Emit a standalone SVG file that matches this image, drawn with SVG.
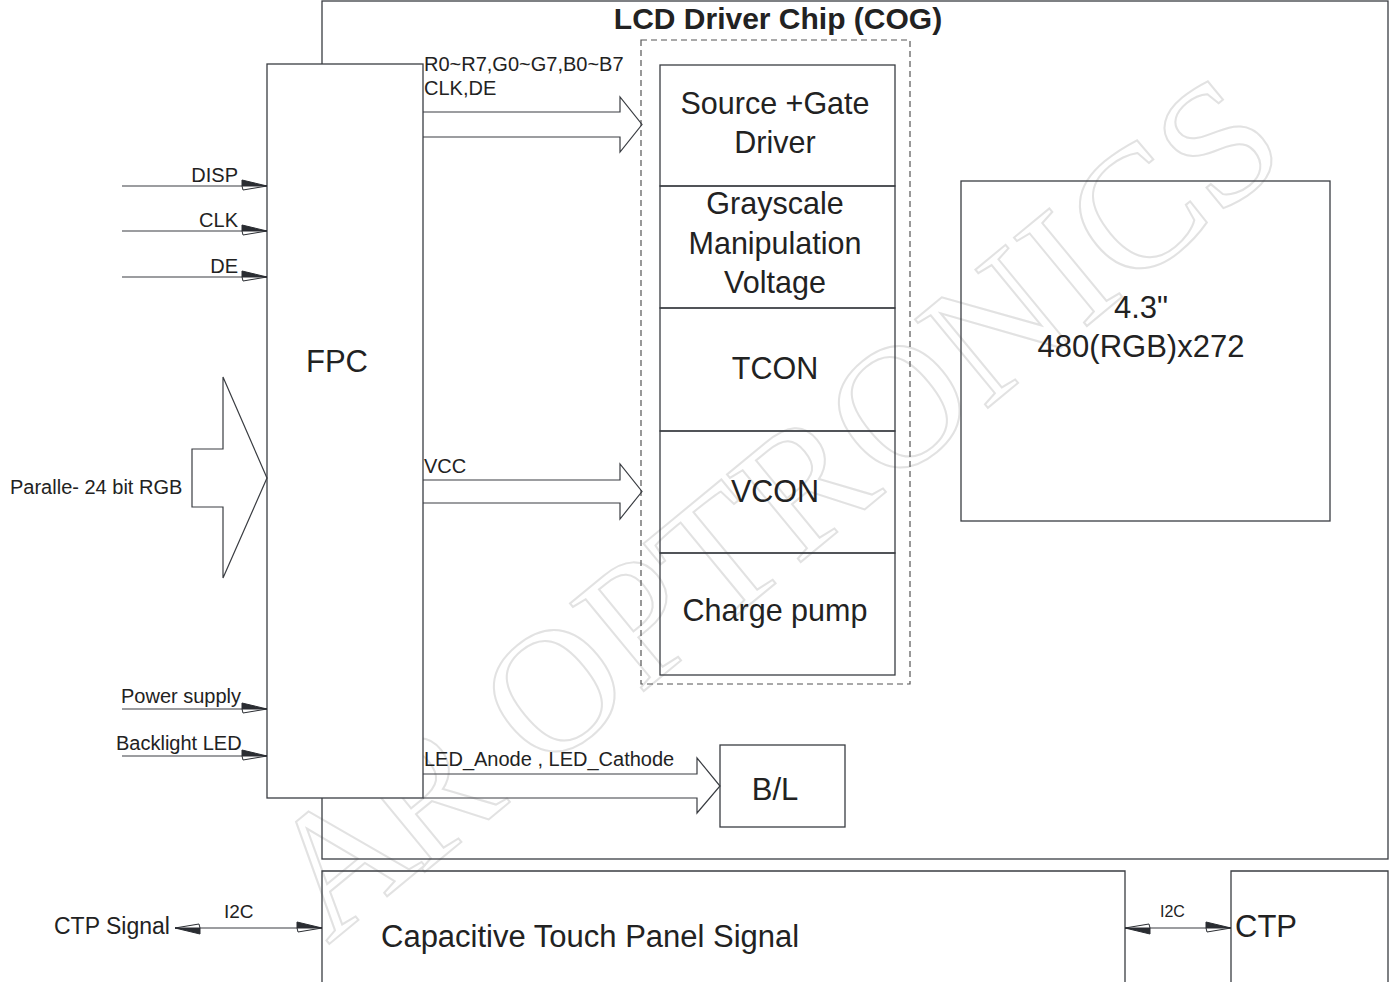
<svg xmlns="http://www.w3.org/2000/svg" xmlns:xlink="http://www.w3.org/1999/xlink" width="1391" height="982" viewBox="0 0 1391 982">
<style>
.box{fill:none;stroke:#3a3d42;stroke-width:1.3}
.ln{fill:none;stroke:#3a3d42;stroke-width:1.2}
.dash{fill:none;stroke:#555;stroke-width:1.2;stroke-dasharray:6,4}
text{font-family:"Liberation Sans",Arial,sans-serif;fill:#222}
.big{font-size:31px}
.mid{font-size:30.5px;text-anchor:middle}
.sm{font-size:20px}
.wm{font-family:"Liberation Serif",serif;font-size:175px;fill:none;stroke:#e2e2e2;stroke-width:2}
</style>
<defs>
<g id="ah">
<polygon points="-25,-6 0,0 -25,0" fill="#2a2d32" stroke="#2a2d32" stroke-width="1"/>
<polygon points="-25,0 0,0 -24,4" fill="#fff" stroke="#2a2d32" stroke-width="1"/>
</g>
</defs>
<rect width="1391" height="982" fill="#fff"/>
<g id="watermark" class="wm" transform="translate(30,-42)">
<text class="wm" transform="translate(298,987) rotate(-39.5)">A</text>
<text class="wm" transform="translate(390,918) rotate(-39.5)">R</text>
<text class="wm" transform="translate(512,817) rotate(-39.5)">O</text>
<text class="wm" transform="translate(609,737) rotate(-39.5)">P</text>
<text class="wm" transform="translate(684,676) rotate(-39.5)">T</text>
<text class="wm" transform="translate(766,608) rotate(-39.5)">R</text>
<text class="wm" transform="translate(857,533) rotate(-39.5)">O</text>
<text class="wm" transform="translate(954,453) rotate(-39.5)">N</text>
<text class="wm" transform="translate(1052,372) rotate(-39.5)">I</text>
<text class="wm" transform="translate(1097,335) rotate(-39.5)">C</text>
<text class="wm" transform="translate(1187,261) rotate(-39.5)">S</text>
</g>

<g id="chip">
<rect class="box" x="322" y="1" width="1066" height="858"/>
<text x="778" y="29" style="font-size:30px;font-weight:bold;text-anchor:middle">LCD Driver Chip (COG)</text>
</g>
<g id="fpc">
<rect class="box" x="267" y="64" width="156" height="734" style="fill:#fff"/>
<text class="big" x="337" y="372" text-anchor="middle">FPC</text>
</g>
<g id="driver-group">
<rect class="dash" x="641" y="40" width="269" height="644"/>
</g>
<g id="source-gate">
<rect class="box" x="660" y="65" width="235" height="121"/>
<text class="mid" x="775" y="114">Source +Gate</text>
<text class="mid" x="775" y="153">Driver</text>
</g>
<g id="grayscale">
<rect class="box" x="660" y="186" width="235" height="122"/>
<text class="mid" x="775" y="214">Grayscale</text>
<text class="mid" x="775" y="254">Manipulation</text>
<text class="mid" x="775" y="293">Voltage</text>
</g>
<g id="tcon">
<rect class="box" x="660" y="308" width="235" height="123"/>
<text class="mid" x="775" y="379">TCON</text>
</g>
<g id="vcon">
<rect class="box" x="660" y="431" width="235" height="122"/>
<text class="mid" x="775" y="502">VCON</text>
</g>
<g id="charge-pump">
<rect class="box" x="660" y="553" width="235" height="122"/>
<text class="mid" x="775" y="621">Charge pump</text>
</g>
<g id="panel">
<rect class="box" x="961" y="181" width="369" height="340"/>
<text class="mid" x="1141" y="318" style="font-size:31px">4.3"</text>
<text class="mid" x="1141" y="357" style="font-size:31px">480(RGB)x272</text>
</g>
<g id="bl">
<rect class="box" x="720" y="745" width="125" height="82"/>
<text class="big" x="775" y="800" text-anchor="middle">B/L</text>
</g>
<g id="ctp-signal-box">
<polyline class="box" points="322,982 322,871 1125,871 1125,982"/>
<text class="big" x="381" y="947">Capacitive Touch Panel Signal</text>
</g>
<g id="ctp">
<polyline class="box" points="1231,982 1231,871 1388,871 1388,982"/>
<text class="big" x="1235" y="937">CTP</text>
</g>
<g id="ctp-signal-label">
<text x="54" y="934" style="font-size:23px">CTP Signal</text>
</g>
<g id="rgb-input">
<polygon class="ln" points="223,377 267,478 223,578 223,507 192,507 192,449 223,449"/>
<text x="10" y="494" style="font-size:20px">Paralle- 24 bit RGB</text>
</g>

<g id="connectors">
<line class="ln" x1="122" y1="186" x2="267" y2="186"/>
<use href="#ah" xlink:href="#ah" transform="translate(267,186)"/>
<text class="sm" x="238" y="182" text-anchor="end">DISP</text>
<line class="ln" x1="122" y1="231" x2="267" y2="231"/>
<use href="#ah" xlink:href="#ah" transform="translate(267,231)"/>
<text class="sm" x="238" y="227" text-anchor="end">CLK</text>
<line class="ln" x1="122" y1="277" x2="267" y2="277"/>
<use href="#ah" xlink:href="#ah" transform="translate(267,277)"/>
<text class="sm" x="238" y="273" text-anchor="end">DE</text>
<line class="ln" x1="122" y1="709" x2="267" y2="709"/>
<use href="#ah" xlink:href="#ah" transform="translate(267,709)"/>
<text class="sm" x="121" y="703">Power supply</text>
<line class="ln" x1="122" y1="756" x2="267" y2="756"/>
<use href="#ah" xlink:href="#ah" transform="translate(267,756)"/>
<text class="sm" x="116" y="750">Backlight LED</text>

<polyline class="ln" points="423,112 620,112 620,97 642,124.5 620,152 620,137 423,137"/>
<text class="sm" x="424" y="71">R0~R7,G0~G7,B0~B7</text>
<text class="sm" x="424" y="95">CLK,DE</text>

<polyline class="ln" points="423,480 620,480 620,464 642,491.5 620,519 620,503 423,503"/>
<text class="sm" x="424" y="473">VCC</text>

<polyline class="ln" points="423,774 697,774 697,758 720,786 697,813 697,798 423,798"/>
<text class="sm" x="424" y="766">LED_Anode , LED_Cathode</text>

<line class="ln" x1="175" y1="928" x2="322" y2="928"/>
<use href="#ah" xlink:href="#ah" transform="translate(322,928)"/>
<use href="#ah" xlink:href="#ah" transform="translate(175,928) rotate(180)"/>
<text x="224" y="918" style="font-size:19px">I2C</text>

<line class="ln" x1="1125" y1="928" x2="1231" y2="928"/>
<use href="#ah" xlink:href="#ah" transform="translate(1231,928)"/>
<use href="#ah" xlink:href="#ah" transform="translate(1125,928) rotate(180)"/>
<text x="1160" y="917" style="font-size:16px">I2C</text>
</g>
</svg>
